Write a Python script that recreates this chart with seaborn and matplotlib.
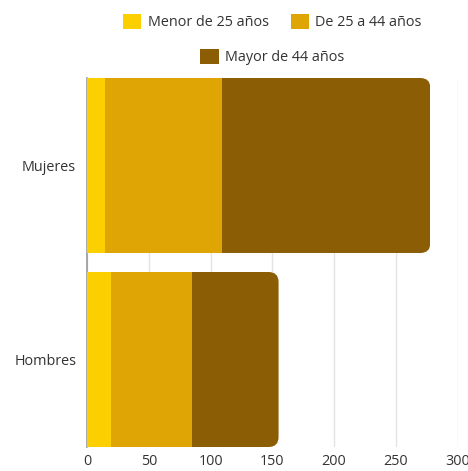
import matplotlib
matplotlib.use("Agg")
import matplotlib.pyplot as plt
import seaborn as sns
import pandas as pd
from matplotlib.patches import Patch, FancyBboxPatch

categories = ["Mujeres", "Hombres"]
menor_25 = [14, 19]
de_25_44 = [95, 66]
mayor_44 = [169, 70]
series_names = ["Menor de 25 años", "De 25 a 44 años", "Mayor de 44 años"]
colors = ["#FCCF00", "#DFA505", "#8B5E06"]
x_ticks = [0, 50, 100, 150, 200, 250, 300]

sns.set_theme(style="white")
plt.rcParams["font.family"] = ["Open Sans", "DejaVu Sans"]
FS = 10.4

df = pd.DataFrame({"cat": categories, "a": menor_25, "b": de_25_44, "c": mayor_44})
df["cum_a"] = df["a"]
df["cum_b"] = df["a"] + df["b"]
df["cum_c"] = df["a"] + df["b"] + df["c"]

fig = plt.figure(figsize=(4.68, 4.71), dpi=100)
ax = fig.add_axes([87.3 / 468, 1 - 447 / 471, (457.5 - 87.3) / 468, (447 - 78) / 471])

H = 0.902
for col, c in [("cum_c", colors[2]), ("cum_b", colors[1]), ("cum_a", colors[0])]:
    sns.barplot(data=df, x=col, y="cat", orient="h", color=c, width=H,
                saturation=1, ax=ax, edgecolor="none", linewidth=0, zorder=3)

ax.set_xlim(0, 300)
ax.set_ylim(1 + H / 2, -H / 2)
ax.set_xticks(x_ticks)
ax.set_xlabel("")
ax.set_ylabel("")
ax.grid(axis="x", color="#e3e3e3", lw=1)
ax.grid(axis="y", visible=False)
ax.set_axisbelow(True)
for s in ["top", "right", "bottom"]:
    ax.spines[s].set_visible(False)
ax.spines["left"].set_color("#9a9a9a")
ax.spines["left"].set_linewidth(1.2)
ax.spines["left"].set_zorder(1)
ax.tick_params(axis="x", length=0, pad=5, labelsize=FS, labelcolor="#333333")
ax.tick_params(axis="y", length=0, pad=8, labelsize=FS, labelcolor="#333333")

# rounded right corners: clip each bar group with a rounded box
px_per_x = (457.5 - 87.3) / 300
px_per_y = 369 / (1 + H)
r_px = 10
rx = r_px / px_per_x
ry = r_px / px_per_y
for i, total in enumerate(df["cum_c"]):
    clip = FancyBboxPatch((-rx * 2, i - H / 2), total + rx * 2, H,
                          boxstyle=f"round,pad=0,rounding_size={rx}",
                          mutation_aspect=ry / rx, transform=ax.transData,
                          facecolor="none", edgecolor="none")
    ax.add_patch(clip)
    for p in ax.patches:
        if p is clip or isinstance(p, FancyBboxPatch):
            continue
        cy = p.get_y() + p.get_height() / 2
        if abs(cy - i) < 0.2:
            p.set_clip_path(clip)

cx = (87.3 + 457.5) / 2 / 468
handles = [Patch(facecolor=c, edgecolor="none") for c in colors]
common = dict(frameon=False, fontsize=FS, handlelength=1.25, handleheight=1.25,
              handletextpad=0.45, columnspacing=1.5, borderpad=0, borderaxespad=0,
              labelcolor="#333333")
leg1 = fig.legend(handles[:2], series_names[:2], ncol=2, loc="center",
                  bbox_to_anchor=(cx, 1 - 22 / 471), **common)
leg2 = fig.legend(handles[2:], series_names[2:], ncol=1, loc="center",
                  bbox_to_anchor=(cx, 1 - 57 / 471), **common)

fig.savefig("out.png", dpi=100)
